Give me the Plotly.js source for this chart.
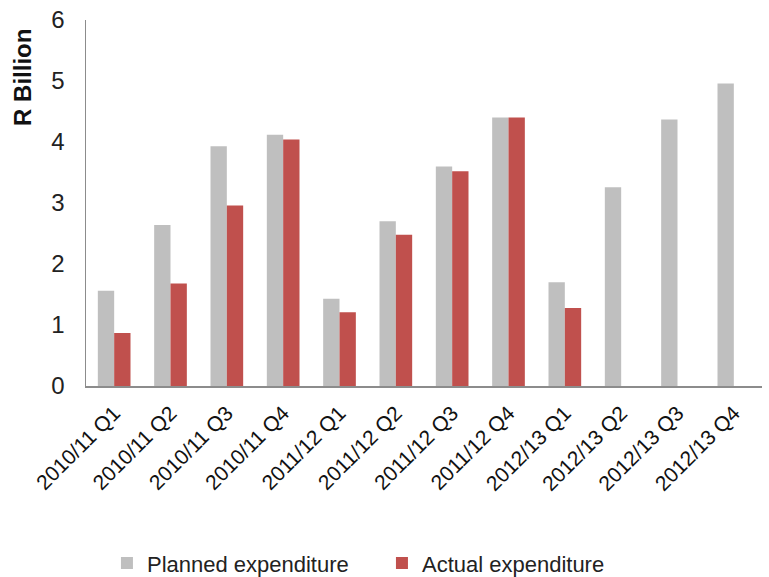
<!DOCTYPE html>
<html>
<head>
<meta charset="utf-8">
<script src="https://cdn.plot.ly/plotly-3.0.1.min.js"></script>
<style>html,body{margin:0;padding:0;background:#fff}#chart{width:769px;height:577px}</style>
</head>
<body>
<div id="chart"></div>
<script>
var categories = ["2010/11 Q1","2010/11 Q2","2010/11 Q3","2010/11 Q4","2011/12 Q1","2011/12 Q2","2011/12 Q3","2011/12 Q4","2012/13 Q1","2012/13 Q2","2012/13 Q3","2012/13 Q4"];
var planned = [1.56, 2.64, 3.93, 4.12, 1.43, 2.70, 3.60, 4.40, 1.70, 3.26, 4.37, 4.96];
var actual = [0.87, 1.68, 2.96, 4.04, 1.21, 2.48, 3.52, 4.40, 1.28, null, null, null];
var yTicks = [0, 1, 2, 3, 4, 5, 6];

var FONT = "'Liberation Sans Narrow', 'Arial Narrow', 'Liberation Sans', Arial, sans-serif";

var data = [
  {type: "bar", name: "Planned expenditure", x: categories, y: planned, marker: {color: "#BFBFBF"}},
  {type: "bar", name: "Actual expenditure", x: categories, y: actual, marker: {color: "#C0504D"}}
];

var layout = {
  width: 769, height: 577,
  margin: {l: 86, r: 7, t: 20, b: 191, autoexpand: false},
  paper_bgcolor: "#fff", plot_bgcolor: "#fff",
  barmode: "group", bargap: 0.42, bargroupgap: 0,
  font: {family: FONT, color: "#222", size: 18},
  xaxis: {
    type: "category", automargin: false, showgrid: false, showline: true, linecolor: "#8c8c8c", linewidth: 1.5,
    ticks: "", tickangle: -45, ticklabelstandoff: 5, tickfont: {size: 21, family: FONT, color: "#111"}
  },
  yaxis: {
    range: [0, 6], tickvals: yTicks, automargin: false, showgrid: false, zeroline: false,
    showline: true, linecolor: "#8c8c8c", linewidth: 1.5, ticks: "",
    ticklabelstandoff: 15, tickfont: {size: 24, family: FONT, color: "#222"}
  },
  showlegend: true,
  legend: {orientation: "h", x: 0.031, y: -0.484, xanchor: "left", yanchor: "middle",
           entrywidth: 230, entrywidthmode: "pixels",
           font: {size: 22, family: FONT, color: "#222"}, itemwidth: 30, traceorder: "normal"},
  annotations: [{
    text: "<b>R Billion</b>", xref: "paper", yref: "paper", x: -0.093, y: 0.98,
    xanchor: "center", yanchor: "top", textangle: -90, showarrow: false,
    font: {size: 24, family: "'Liberation Sans', Arial, sans-serif", color: "#111"}
  }]
};

Plotly.newPlot("chart", data, layout, {displayModeBar: false, staticPlot: true});
</script>
</body>
</html>
